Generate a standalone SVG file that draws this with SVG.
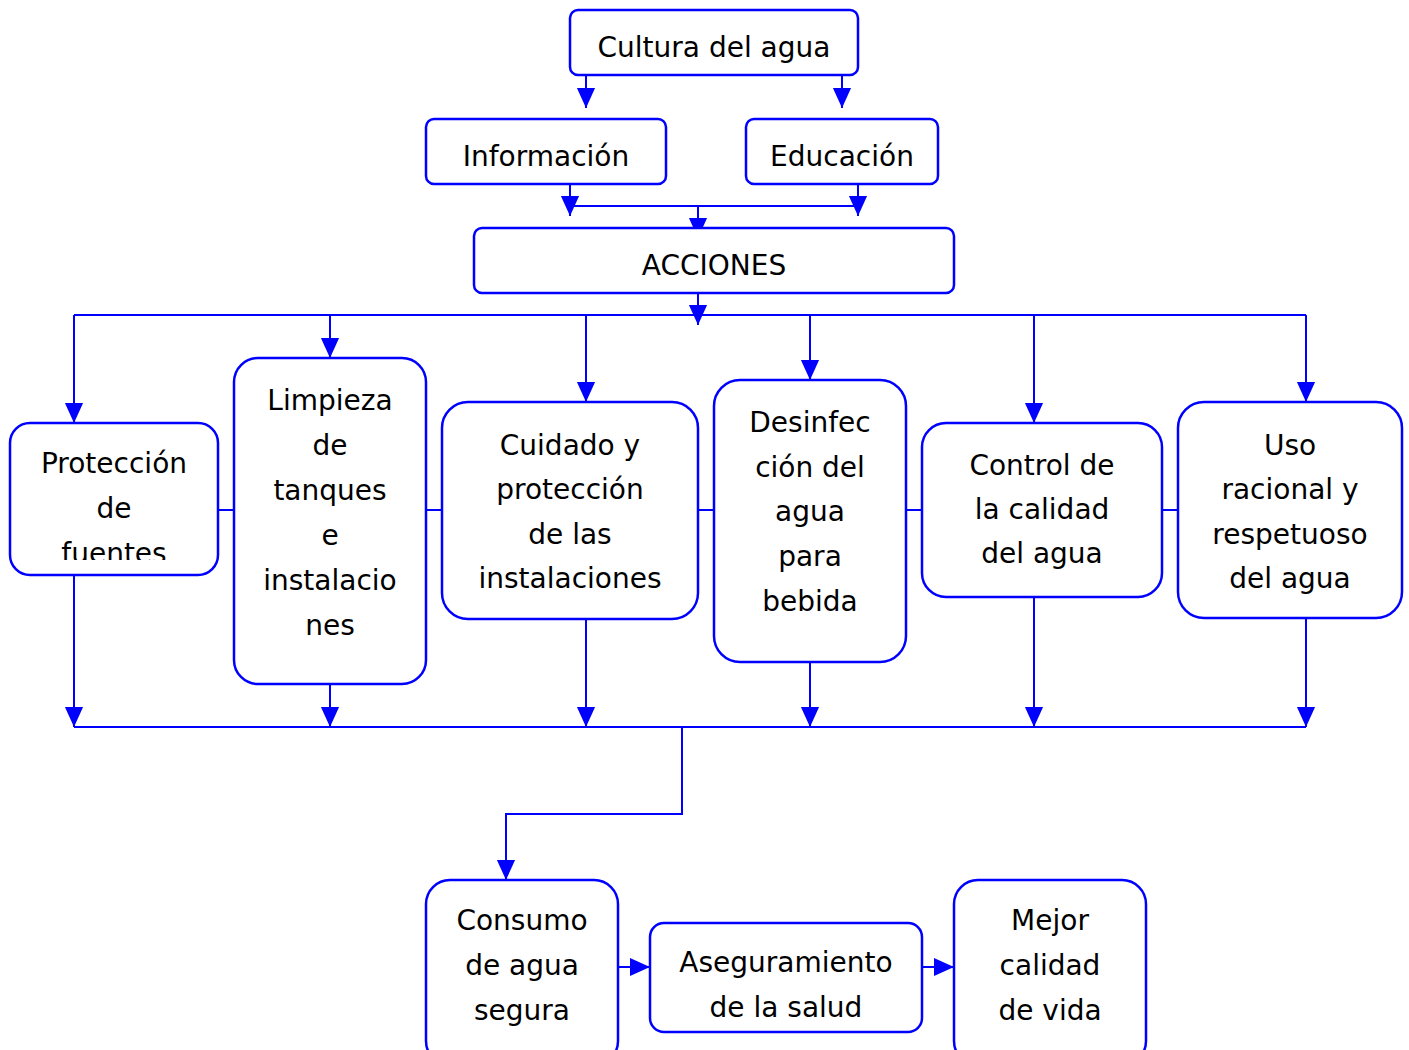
<svg xmlns="http://www.w3.org/2000/svg" width="1409" height="1050" viewBox="0 0 1409 1050">
<style>
.box{fill:#fff;stroke:#0000ff;stroke-width:2.5}
.ln{fill:none;stroke:#0000ff;stroke-width:2}
.ar{fill:none;stroke:#0000ff;stroke-width:2;marker-end:url(#ah)}
text{font-family:"DejaVu Sans","Liberation Sans",sans-serif;font-size:28px;fill:#000;text-anchor:middle}
</style>
<defs>
<marker id="ah" markerUnits="userSpaceOnUse" markerWidth="20" markerHeight="22" viewBox="0 0 22 20" refX="22" refY="10" orient="auto">
<path d="M0,0 L22,10 L0,20 Z" fill="#0000ff"/>
</marker>
<clipPath id="clipProt"><rect x="10" y="423" width="208" height="137"/></clipPath>
</defs>
<rect width="1409" height="1050" fill="#fff"/>
<g id="connectors">
<line class="ar" x1="586" y1="75" x2="586" y2="108"/>
<line class="ar" x1="842" y1="75" x2="842" y2="108"/>
<line class="ar" x1="570" y1="184" x2="570" y2="216"/>
<line class="ar" x1="858" y1="184" x2="858" y2="216"/>
<line class="ln" x1="570" y1="206" x2="858" y2="206"/>
<line class="ar" x1="698" y1="206" x2="698" y2="238"/>
<line class="ar" x1="698" y1="293" x2="698" y2="325"/>
<line class="ln" x1="74" y1="315" x2="1306" y2="315"/>
<line class="ar" x1="74" y1="315" x2="74" y2="423"/>
<line class="ar" x1="330" y1="315" x2="330" y2="358"/>
<line class="ar" x1="586" y1="315" x2="586" y2="402"/>
<line class="ar" x1="810" y1="315" x2="810" y2="380"/>
<line class="ar" x1="1034" y1="315" x2="1034" y2="423"/>
<line class="ar" x1="1306" y1="315" x2="1306" y2="402"/>
<line class="ln" x1="218" y1="510" x2="234" y2="510"/>
<line class="ln" x1="426" y1="510" x2="442" y2="510"/>
<line class="ln" x1="698" y1="510" x2="714" y2="510"/>
<line class="ln" x1="906" y1="510" x2="922" y2="510"/>
<line class="ln" x1="1162" y1="510" x2="1178" y2="510"/>
<line class="ar" x1="74" y1="575" x2="74" y2="727"/>
<line class="ar" x1="330" y1="684" x2="330" y2="727"/>
<line class="ar" x1="586" y1="619" x2="586" y2="727"/>
<line class="ar" x1="810" y1="662" x2="810" y2="727"/>
<line class="ar" x1="1034" y1="597" x2="1034" y2="727"/>
<line class="ar" x1="1306" y1="618" x2="1306" y2="727"/>
<line class="ln" x1="74" y1="727" x2="1306" y2="727"/>
<path class="ar" d="M682,727 V814 H506 V880"/>
<line class="ar" x1="618" y1="967" x2="650" y2="967"/>
<line class="ar" x1="922" y1="967" x2="954" y2="967"/>
</g>
<g id="cultura">
<rect class="box" x="570" y="10" width="288" height="65" rx="8"/>
<text x="714" y="57">Cultura del agua</text>
</g>
<g id="informacion">
<rect class="box" x="426" y="119" width="240" height="65" rx="8"/>
<text x="546" y="166">Información</text>
</g>
<g id="educacion">
<rect class="box" x="746" y="119" width="192" height="65" rx="8"/>
<text x="842" y="166">Educación</text>
</g>
<g id="acciones">
<rect class="box" x="474" y="228" width="480" height="65" rx="8"/>
<text x="714" y="275">ACCIONES</text>
</g>
<g id="proteccion">
<rect class="box" x="10" y="423" width="208" height="152" rx="20"/>
<g clip-path="url(#clipProt)">
<text x="114" y="473">Protección</text>
<text x="114" y="518">de</text>
<text x="114" y="563">fuentes</text>
</g>
</g>
<g id="limpieza">
<rect class="box" x="234" y="358" width="192" height="326" rx="24"/>
<text x="330" y="410">Limpieza</text>
<text x="330" y="455">de</text>
<text x="330" y="500">tanques</text>
<text x="330" y="545">e</text>
<text x="330" y="590">instalacio</text>
<text x="330" y="635">nes</text>
</g>
<g id="cuidado">
<rect class="box" x="442" y="402" width="256" height="217" rx="26"/>
<text x="570" y="455">Cuidado y</text>
<text x="570" y="499">protección</text>
<text x="570" y="544">de las</text>
<text x="570" y="588">instalaciones</text>
</g>
<g id="desinfeccion">
<rect class="box" x="714" y="380" width="192" height="282" rx="26"/>
<text x="810" y="432">Desinfec</text>
<text x="810" y="477">ción del</text>
<text x="810" y="521">agua</text>
<text x="810" y="566">para</text>
<text x="810" y="611">bebida</text>
</g>
<g id="control">
<rect class="box" x="922" y="423" width="240" height="174" rx="24"/>
<text x="1042" y="475">Control de</text>
<text x="1042" y="519">la calidad</text>
<text x="1042" y="563">del agua</text>
</g>
<g id="uso">
<rect class="box" x="1178" y="402" width="224" height="216" rx="26"/>
<text x="1290" y="455">Uso</text>
<text x="1290" y="499">racional y</text>
<text x="1290" y="544">respetuoso</text>
<text x="1290" y="588">del agua</text>
</g>
<g id="consumo">
<rect class="box" x="426" y="880" width="192" height="185" rx="24"/>
<text x="522" y="930">Consumo</text>
<text x="522" y="975">de agua</text>
<text x="522" y="1020">segura</text>
</g>
<g id="aseguramiento">
<rect class="box" x="650" y="923" width="272" height="109" rx="14"/>
<text x="786" y="972">Aseguramiento</text>
<text x="786" y="1017">de la salud</text>
</g>
<g id="mejor">
<rect class="box" x="954" y="880" width="192" height="185" rx="24"/>
<text x="1050" y="930">Mejor</text>
<text x="1050" y="975">calidad</text>
<text x="1050" y="1020">de vida</text>
</g>
</svg>
